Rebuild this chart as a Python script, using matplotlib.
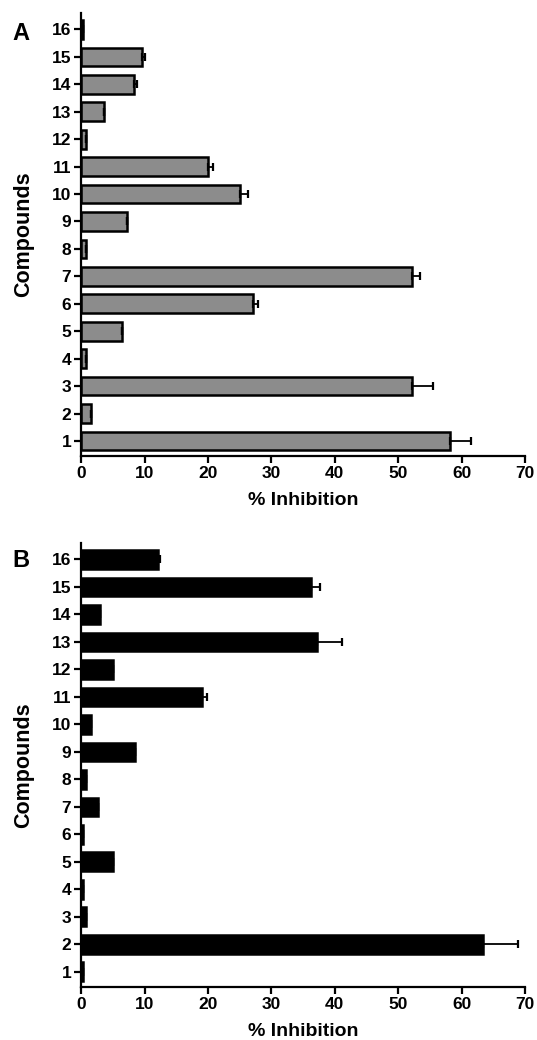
import matplotlib
matplotlib.use("Agg")
import matplotlib.pyplot as plt
import numpy as np

plt.rcParams['font.family'] = ['Liberation Sans', 'DejaVu Sans']
plt.rcParams['font.weight'] = 'bold'

compounds = list(range(1, 17))

# pannello A (barre grigie)
inib_a = [58.2, 1.6, 52.2, 0.7, 6.5, 27.1, 52.2, 0.7, 7.2, 25.0, 20.0, 0.7, 3.6, 8.4, 9.6, 0.25]
err_a = [3.2, 0, 3.2, 0, 0, 0.8, 1.2, 0, 0, 1.3, 0.8, 0, 0, 0.4, 0.5, 0]

# pannello B (barre nere)
inib_b = [0.3, 63.3, 0.8, 0.3, 5.0, 0.35, 2.7, 0.8, 8.5, 1.6, 19.1, 5.0, 37.2, 3.0, 36.2, 12.1]
err_b = [0, 5.6, 0, 0, 0, 0, 0, 0, 0, 0, 0.7, 0, 4.0, 0, 1.5, 0.3]

xticks = [0, 10, 20, 30, 40, 50, 60, 70]

fig = plt.figure(figsize=(5.37, 10.4), dpi=100)
ax_a = fig.add_axes([0.151, 0.5615, 0.827, 0.426])
ax_b = fig.add_axes([0.151, 0.051, 0.827, 0.427])


def pannello(ax, vals, errs, colore, lettera, ylett):
    ax.barh(compounds, vals, height=0.68, color=colore, edgecolor='black', linewidth=1.8,
            xerr=[np.zeros(len(errs)), errs],
            error_kw=dict(ecolor='black', elinewidth=1.3, capsize=3, capthick=1.6))
    ax.set_xlim(0, 70)
    ax.set_ylim(0.45, 16.6)
    ax.set_xticks(xticks)
    ax.set_yticks(compounds)
    ax.spines['top'].set_visible(False)
    ax.spines['right'].set_visible(False)
    ax.spines['left'].set_linewidth(1.6)
    ax.spines['bottom'].set_linewidth(1.6)
    ax.tick_params(width=1.6, length=5, labelsize=12.5, pad=2)
    ax.set_xlabel("% Inhibition", fontsize=14, fontweight='bold', labelpad=8)
    ax.set_ylabel("Compounds", fontsize=15.5, fontweight='bold', labelpad=13)
    ax.text(-0.135, ylett, lettera, transform=ax.transAxes, fontsize=17,
            fontweight='bold', ha='center', va='center')


pannello(ax_a, inib_a, err_a, '#8c8c8c', 'A', 0.953)
pannello(ax_b, inib_b, err_b, 'black', 'B', 0.96)

fig.savefig("out.png", dpi=100)
